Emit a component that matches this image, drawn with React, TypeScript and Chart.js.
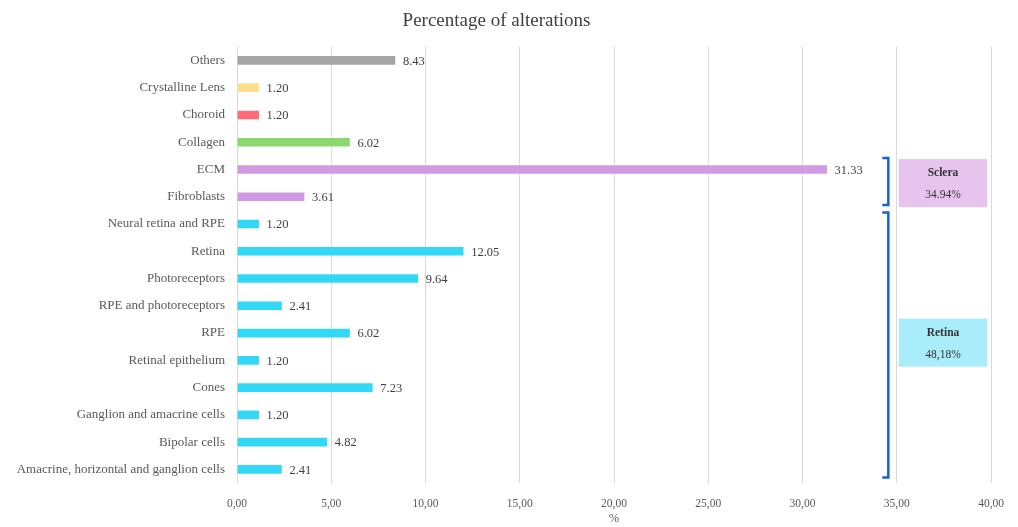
import React, { useEffect, useRef } from "react";
import { Chart, registerables } from "chart.js";

Chart.register(...registerables);

const categories = [
  "Others",
  "Crystalline Lens",
  "Choroid",
  "Collagen",
  "ECM",
  "Fibroblasts",
  "Neural retina and RPE",
  "Retina",
  "Photoreceptors",
  "RPE and photoreceptors",
  "RPE",
  "Retinal epithelium",
  "Cones",
  "Ganglion and amacrine cells",
  "Bipolar cells",
  "Amacrine, horizontal and ganglion cells",
];

const values = [8.43, 1.2, 1.2, 6.02, 31.33, 3.61, 1.2, 12.05, 9.64, 2.41, 6.02, 1.2, 7.23, 1.2, 4.82, 2.41];

const GRAY = "#a5a5a5";
const YELLOW = "#ffdf8c";
const RED = "#ff6b78";
const GREEN = "#8dd86e";
const PURPLE = "#d19ae2";
const CYAN = "#33d8f7";

const barColors = [GRAY, YELLOW, RED, GREEN, PURPLE, PURPLE, CYAN, CYAN, CYAN, CYAN, CYAN, CYAN, CYAN, CYAN, CYAN, CYAN];

const xTicks = [0, 5, 10, 15, 20, 25, 30, 35, 40];

const groups = [
  { name: "Sclera", total: "34.94%", from: 4, to: 5, fill: "#e6c4ee" },
  { name: "Retina", total: "48,18%", from: 6, to: 15, fill: "#aaedfa" },
];

const FONT = "'Liberation Serif', 'DejaVu Serif', serif";

const overlayPlugin = {
  id: "overlay",
  afterDatasetsDraw(chart: any) {
    const ctx = chart.ctx;
    const x = chart.scales.x;
    const y = chart.scales.y;
    const meta = chart.getDatasetMeta(0);
    ctx.save();
    // value labels
    ctx.font = `12.5px ${FONT}`;
    ctx.fillStyle = "#404040";
    ctx.textAlign = "left";
    ctx.textBaseline = "middle";
    meta.data.forEach((bar: any, i: number) => {
      ctx.fillText(values[i].toFixed(2), bar.x + 7, bar.y + 1);
    });
    // brackets and boxes
    const band = Math.abs(y.getPixelForValue(1) - y.getPixelForValue(0));
    const bx = x.getPixelForValue(34.55);
    groups.forEach((g) => {
      const top = y.getPixelForValue(g.from) - band * 0.42;
      const bottom = y.getPixelForValue(g.to) + band * 0.3;
      ctx.strokeStyle = "#1b5fd4";
      ctx.lineWidth = 2.5;
      ctx.beginPath();
      ctx.moveTo(bx - 6, top);
      ctx.lineTo(bx, top);
      ctx.lineTo(bx, bottom);
      ctx.lineTo(bx - 6, bottom);
      ctx.stroke();
      const cy = (y.getPixelForValue(g.from) + y.getPixelForValue(g.to)) / 2 - (g.to - g.from > 1 ? 4 : 0);
      const left = x.getPixelForValue(35.1);
      const right = x.getPixelForValue(39.8);
      const h = 48;
      ctx.fillStyle = g.fill;
      ctx.fillRect(left, cy - h / 2, right - left, h);
      ctx.fillStyle = "#333333";
      ctx.textAlign = "center";
      ctx.font = `bold 11.5px ${FONT}`;
      ctx.fillText(g.name, (left + right) / 2, cy - 10);
      ctx.font = `11.5px ${FONT}`;
      ctx.fillText(g.total, (left + right) / 2, cy + 12);
    });
    ctx.restore();
  },
};

export default function App() {
  const ref = useRef<HTMLCanvasElement | null>(null);
  useEffect(() => {
    if (!ref.current) return;
    const chart = new Chart(ref.current, {
      type: "bar",
      data: {
        labels: categories,
        datasets: [
          {
            data: values,
            backgroundColor: barColors,
            borderColor: "rgba(255,255,255,0.5)",
            borderWidth: 1,
            barThickness: 10,
          },
        ],
      },
      options: {
        indexAxis: "y",
        responsive: false,
        animation: false,
        devicePixelRatio: 1,
        layout: { padding: { left: 0, right: 25, top: 0, bottom: 0 } },
        plugins: {
          legend: { display: false },
          tooltip: { enabled: false },
          title: {
            display: true,
            text: "Percentage of alterations",
            color: "#404040",
            font: { family: FONT, size: 19, weight: "normal", lineHeight: 1.2 },
            padding: { top: 10, bottom: 14 },
          },
        },
        scales: {
          x: {
            min: 0,
            max: 40,
            afterBuildTicks: (scale: any) => {
              scale.ticks = xTicks.map((v) => ({ value: v }));
            },
            afterFit: (scale: any) => {
              scale.height = 44;
            },
            grid: { color: "#d9d9d9", drawTicks: false },
            border: { display: false },
            ticks: {
              padding: 14,
              color: "#595959",
              font: { family: FONT, size: 11.5 },
              callback: (v: any) => Number(v).toFixed(2).replace(".", ","),
            },
            title: {
              display: true,
              text: "%",
              color: "#595959",
              font: { family: FONT, size: 12.5 },
              padding: { top: 0, bottom: 1 },
            },
          },
          y: {
            afterFit: (scale: any) => {
              scale.width = 237;
            },
            grid: { display: false, drawTicks: false },
            border: { display: false },
            ticks: {
              padding: 12,
              color: "#595959",
              font: { family: FONT, size: 13 },
              autoSkip: false,
            },
          },
        },
      },
      plugins: [overlayPlugin],
    } as any);
    return () => chart.destroy();
  }, []);
  return (
    <div style={{ position: "absolute", left: 0, top: 0, width: 1018, height: 527, background: "#fff" }}>
      <canvas ref={ref} width={1018} height={527} />
    </div>
  );
}
